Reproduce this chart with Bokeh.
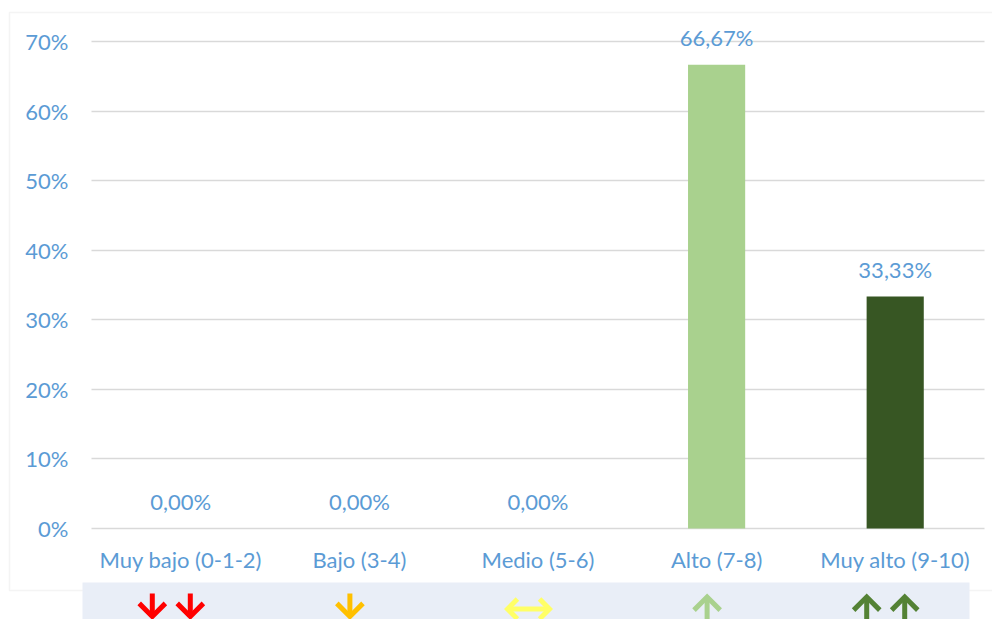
import math
from bokeh.plotting import figure
from bokeh.models import (ColumnDataSource, FixedTicker, NumeralTickFormatter, LabelSet,
                          BoxAnnotation, PolyAnnotation, Range1d, LinearAxis)
from bokeh.core.properties import value
from bokeh.embed import file_html
from bokeh.resources import INLINE

# ---- data ----
categories = ["Muy bajo (0-1-2)", "Bajo (3-4)", "Medio (5-6)", "Alto (7-8)", "Muy alto (9-10)"]
values = [0.0, 0.0, 0.0, 0.6667, 0.3333]
value_labels = ["0,00%", "0,00%", "0,00%", "66,67%", "33,33%"]
bar_colors = ["#A9D18E", "#A9D18E", "#A9D18E", "#A9D18E", "#375623"]
y_ticks = [0.0, 0.1, 0.2, 0.3, 0.4, 0.5, 0.6, 0.7]
arrow_kinds = ["down2", "down", "both", "up", "up2"]
arrow_colors = ["#FF0000", "#FFC000", "#FFFF66", "#A9D18E", "#548235"]

TEXT = "#5B9BD5"
GRID = "#D9D9D9"
FONT = "Lato"

W, H = 992, 619
# plot area in canvas pixels
PL, PR, P0, P70 = 91.0, 984.0, 528.0, 41.0
n = len(categories)
ux = (PR - PL) / n          # px per category
uy = (P0 - P70) / 0.7       # px per unit of y
x_start = -0.5 - PL / ux
x_end = x_start + W / ux
y_start = -(H - P0) / uy
y_end = P0 / uy


def xd(px):
    return x_start + px / ux


def yd(py):  # py: canvas px from top
    return y_start + (H - py) / uy


p = figure(x_range=Range1d(x_start, x_end), y_range=Range1d(y_start, y_end),
           width=W, height=H, output_backend="svg", toolbar_location=None,
           x_axis_type=None, y_axis_type=None,
           min_border_left=0, min_border_right=0, min_border_top=0, min_border_bottom=0)
p.outline_line_color = None
p.background_fill_color = "white"
p.border_fill_color = "white"
p.xgrid.visible = False
p.ygrid.visible = False

# ---- outer chart border and bottom band ----
p.add_layout(BoxAnnotation(left=xd(9), right=xd(W + 40), top=yd(12), bottom=yd(590),
                           fill_color=None, fill_alpha=0, line_color=GRID, line_width=1.5,
                           level="underlay"))
p.add_layout(BoxAnnotation(left=xd(82), right=xd(969), top=yd(582), bottom=yd(H + 40),
                           fill_color="#E9EEF7", fill_alpha=1, line_color=None,
                           level="underlay"))

# ---- axes (fixed inside the frame) ----
yax = LinearAxis(fixed_location=-0.5, ticker=FixedTicker(ticks=y_ticks),
                 formatter=NumeralTickFormatter(format="0%"), bounds=(0, 0.7),
                 level="underlay")
yax.axis_line_color = None
yax.major_tick_in = int(round(PR - PL))   # ticks drawn across the plot as gridlines
yax.major_tick_out = 0
yax.major_tick_line_color = GRID
yax.major_tick_line_width = 1.5
yax.minor_tick_line_color = None
yax.major_label_standoff = 23
p.add_layout(yax, "left")

x_pos = list(range(n))
xax = LinearAxis(fixed_location=0, ticker=FixedTicker(ticks=x_pos),
                 major_label_overrides={i: c for i, c in zip(x_pos, categories)})
xax.axis_line_color = None
xax.major_tick_line_color = None
xax.minor_tick_line_color = None
xax.major_tick_in = 0
xax.major_tick_out = 0
xax.major_label_standoff = 17
p.add_layout(xax, "below")

for ax in (xax, yax):
    ax.major_label_text_color = TEXT
    ax.major_label_text_font = FONT
    ax.major_label_text_font_size = "22px"

# ---- bars and data labels ----
src = ColumnDataSource(dict(x=x_pos, val=values, lab=value_labels, col=bar_colors))
p.vbar(x="x", top="val", width=0.32, fill_color="col", line_color=None, source=src)
p.add_layout(LabelSet(x="x", y="val", text="lab", source=src, text_align="center",
                      text_baseline="alphabetic", y_offset=19, text_color=TEXT,
                      text_font=value(FONT), text_font_size="22px"))

# ---- arrow icons in the band (geometry in px, y upward from canvas bottom) ----
T = 5.0     # stroke thickness
S2 = math.sqrt(2)


def poly(pts, color):
    p.add_layout(PolyAnnotation(xs=[xd(a) for a, b in pts], ys=[yd(H - b) for a, b in pts],
                                fill_color=color, fill_alpha=1, line_color=None))


def chevron(tx, ty, dx, dy, color, hl):
    bx, by = -dx, -dy
    c = math.cos(math.pi / 4)
    a1 = (bx * c - by * c, bx * c + by * c)
    a2 = (bx * c + by * c, -bx * c + by * c)
    p1 = (a1[1], -a1[0])
    p2 = (-a2[1], a2[0])
    if p1[0] * bx + p1[1] * by < 0:
        p1 = (-p1[0], -p1[1])
    if p2[0] * bx + p2[1] * by < 0:
        p2 = (-p2[0], -p2[1])
    pts = [(tx, ty),
           (tx + hl * a1[0], ty + hl * a1[1]),
           (tx + hl * a1[0] + T * p1[0], ty + hl * a1[1] + T * p1[1]),
           (tx + bx * T * S2, ty + by * T * S2),
           (tx + hl * a2[0] + T * p2[0], ty + hl * a2[1] + T * p2[1]),
           (tx + hl * a2[0], ty + hl * a2[1])]
    poly(pts, color)


def stem(x0, y0, x1, y1, color):
    L = math.hypot(x1 - x0, y1 - y0)
    vx, vy = (x1 - x0) / L, (y1 - y0) / L
    nx, ny = -vy * T / 2, vx * T / 2
    poly([(x0 + nx, y0 + ny), (x1 + nx, y1 + ny), (x1 - nx, y1 - ny), (x0 - nx, y0 - ny)], color)


Y_TOP = H - 593.0   # upper end of vertical arrows
Y_BOT = H - 619.5   # lower end of vertical arrows
HL_V = 21.0
HL_H = 16.5


def vert_arrow(x, up, color):
    if up:
        stem(x, Y_BOT - 10, x, Y_TOP - 0.8 * T, color)
        chevron(x, Y_TOP, 0, 1, color, HL_V)
    else:
        stem(x, Y_TOP, x, Y_BOT + 0.8 * T, color)
        chevron(x, Y_BOT, 0, -1, color, HL_V)


def both_arrow(xc, color):
    y = H - 608.5
    xl, xr = xc - 24.5, xc + 24.5
    stem(xl + 0.8 * T, y, xr - 0.8 * T, y, color)
    chevron(xl, y, -1, 0, color, HL_H)
    chevron(xr, y, 1, 0, color, HL_H)


for i, (kind, col) in enumerate(zip(arrow_kinds, arrow_colors)):
    xc = PL + (i + 0.5) * ux - 9.5
    if kind == "down2":
        vert_arrow(xc - 19, False, col)
        vert_arrow(xc + 19, False, col)
    elif kind == "down":
        vert_arrow(xc, False, col)
    elif kind == "both":
        both_arrow(xc, col)
    elif kind == "up":
        vert_arrow(xc, True, col)
    elif kind == "up2":
        vert_arrow(xc - 19, True, col)
        vert_arrow(xc + 19, True, col)

open("out.html", "w").write(file_html(p, INLINE))
